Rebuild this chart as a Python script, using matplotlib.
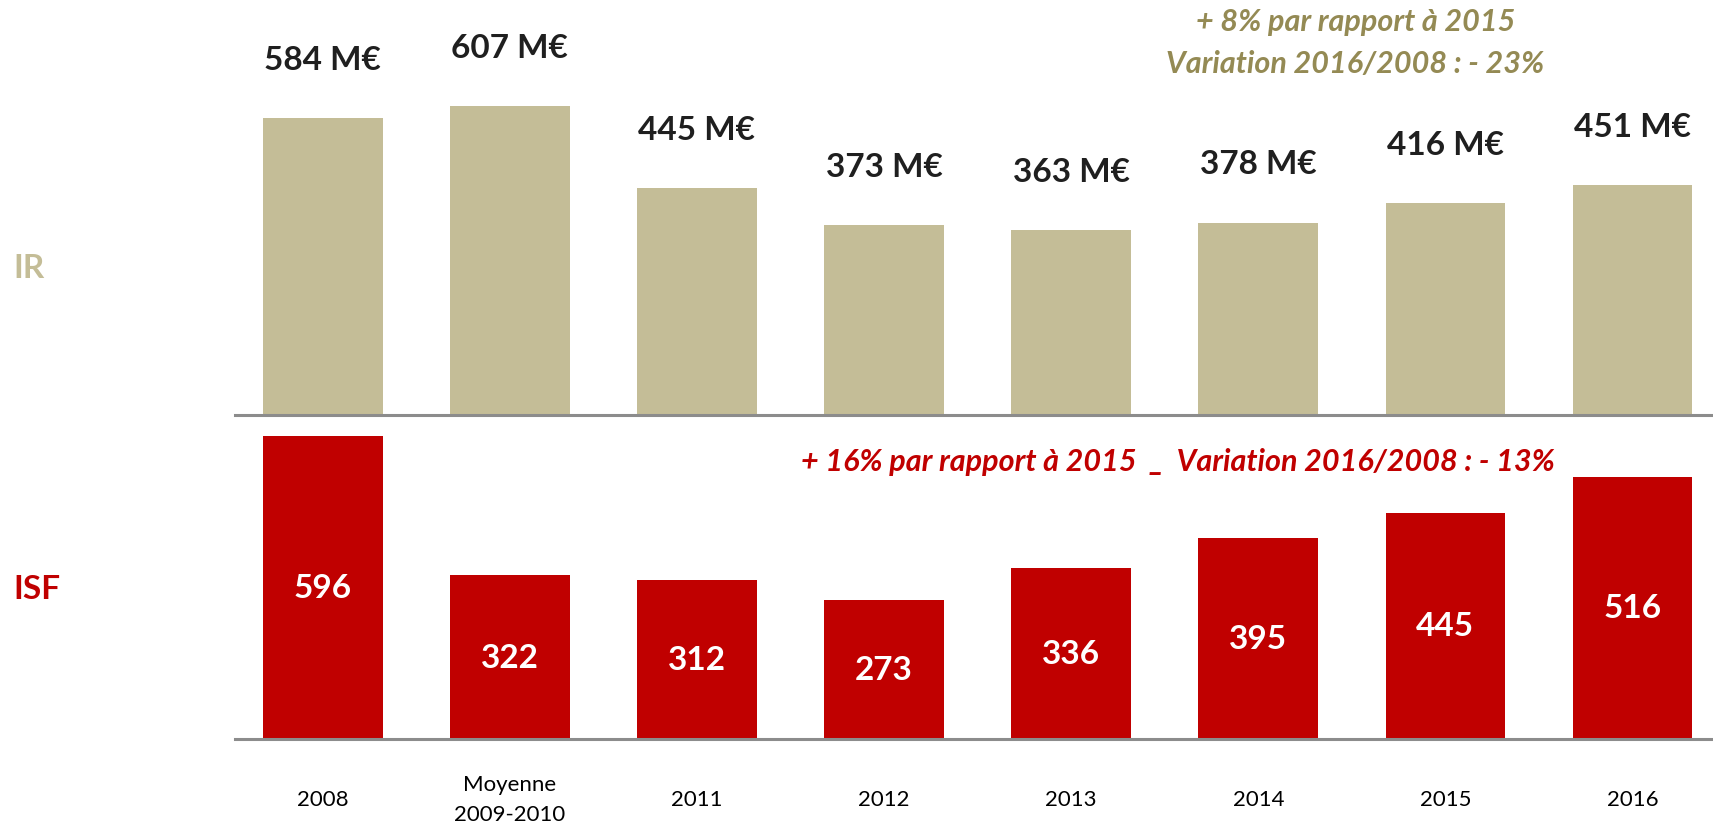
import matplotlib
matplotlib.use("Agg")
import matplotlib.pyplot as plt

# données
categories = ["2008", "Moyenne\n2009-2010", "2011", "2012", "2013", "2014", "2015", "2016"]
ir_values = [584, 607, 445, 373, 363, 378, 416, 451]
isf_values = [596, 322, 312, 273, 336, 395, 445, 516]
ir_note = "+ 8% par rapport à 2015\nVariation 2016/2008 : - 23%"
isf_note = "+ 16% par rapport à 2015  _  Variation 2016/2008 : - 13%"

tan = "#C4BD97"
olive = "#948A54"
red = "#C00000"
dark = "#1F1F1F"
grey = "#8C8C8C"

plt.rcParams['font.family'] = ['Lato', 'DejaVu Sans']

fig = plt.figure(figsize=(17.13, 8.28), dpi=100)
ax_ir = fig.add_axes([0.137, 0.4976, 0.863, 0.5024])
ax_isf = fig.add_axes([0.137, 0.1063, 0.863, 0.3913])

x = list(range(len(categories)))

ax_ir.bar(x, ir_values, width=0.64, color=tan)
ax_isf.bar(x, isf_values, width=0.64, color=red)

for ax in (ax_ir, ax_isf):
    ax.set_xlim(-0.47, 7.43)
    for s in ("top", "right", "left"):
        ax.spines[s].set_visible(False)
    ax.spines["bottom"].set_color(grey)
    ax.spines["bottom"].set_linewidth(2.2)
    ax.set_yticks([])
    ax.set_xticks([])
    ax.patch.set_alpha(0)

ax_ir.set_ylim(0, 817)
ax_isf.set_ylim(0, 637)

# étiquettes IR au-dessus des barres
for i, v in zip(x, ir_values):
    ax_ir.text(i, v + 115, f"{v} M€", ha="center", va="center",
               fontsize=24, fontweight="bold", color=dark)

# étiquettes ISF dans les barres
for i, v in zip(x, isf_values):
    ax_isf.text(i, v / 2, str(v), ha="center", va="center",
                fontsize=24, fontweight="bold", color="white")

# catégories
for i, c in zip(x, categories):
    ax_isf.text(i, -0.185, c, ha="center", va="center", fontsize=16,
                color="black", linespacing=1.6,
                transform=ax_isf.get_xaxis_transform())

ax_ir.text(5.52, 733, ir_note, ha="center", va="center", fontsize=22,
           fontweight="bold", fontstyle="italic", color=olive, linespacing=1.6)
ax_isf.text(4.57, 546, isf_note, ha="center", va="center", fontsize=22,
            fontweight="bold", fontstyle="italic", color=red)

fig.text(13 / 1713, 1 - 268 / 828, "IR", ha="left", va="center",
         fontsize=24, fontweight="bold", color=tan)
fig.text(13 / 1713, 1 - 590 / 828, "ISF", ha="left", va="center",
         fontsize=24, fontweight="bold", color=red)

fig.savefig("out.png", dpi=100)
